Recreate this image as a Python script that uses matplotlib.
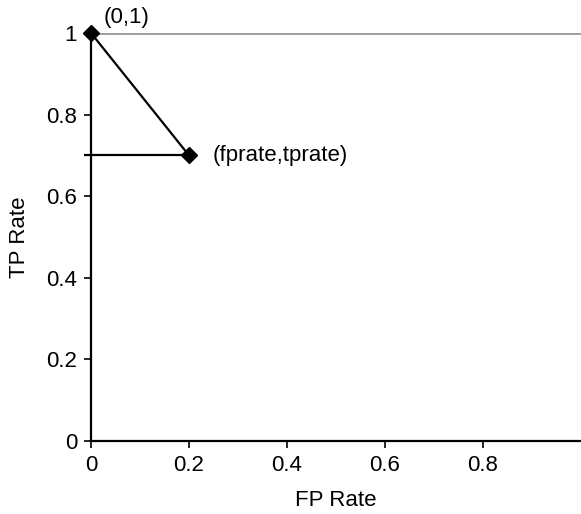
import matplotlib.pyplot as plt

plt.rcParams["font.family"] = ["Liberation Sans", "DejaVu Sans"]

fp_rate = [0, 0.2]
tp_rate = [1, 0.7]
labels = ["(0,1)", "(fprate,tprate)"]
x_ticks = [0, 0.2, 0.4, 0.6, 0.8]
x_tick_labels = ["0", "0.2", "0.4", "0.6", "0.8"]
y_ticks = [0, 0.2, 0.4, 0.6, 0.8, 1]
y_tick_labels = ["0", "0.2", "0.4", "0.6", "0.8", "1"]

fs = 16

fig = plt.figure(figsize=(5.81, 5.14), dpi=100)
ax = fig.add_axes([91 / 581, 1 - 441 / 514, 490 / 581, 408 / 514])

# gridline at the top of the plot area
ax.axhline(1, color="#999999", linewidth=2, zorder=1)

# horizontal line at the tp rate of the classifier point (pokes a bit past the axis)
ax.hlines(tp_rate[1], fp_rate[0] - 0.014, fp_rate[1], color="black", linewidth=1.6,
          zorder=2, clip_on=False)
ax.plot(fp_rate, tp_rate, color="black", linewidth=1.6, marker="D", markersize=8,
        zorder=3, clip_on=False)

ax.annotate(labels[0], (fp_rate[0], tp_rate[0]), xytext=(9, 11), textcoords="offset points",
            fontsize=fs, ha="left", va="center")
ax.annotate(labels[1], (fp_rate[1], tp_rate[1]), xytext=(17, 0), textcoords="offset points",
            fontsize=fs, ha="left", va="center")

ax.set_xlim(0, 1)
ax.set_ylim(0, 1)
ax.set_xticks(x_ticks)
ax.set_xticklabels(x_tick_labels)
ax.set_yticks(y_ticks)
ax.set_yticklabels(y_tick_labels)
ax.tick_params(direction="out", length=5, width=1.2, labelsize=fs, pad=5)

ax.spines["top"].set_visible(False)
ax.spines["right"].set_visible(False)
ax.spines["left"].set_linewidth(1.6)
ax.spines["bottom"].set_linewidth(1.6)
ax.patch.set_visible(False)

ax.set_xlabel("FP Rate", fontsize=fs, labelpad=10)
ax.set_ylabel("TP Rate", fontsize=fs, labelpad=12)

plt.savefig("out.png", dpi=100)
plt.close()
